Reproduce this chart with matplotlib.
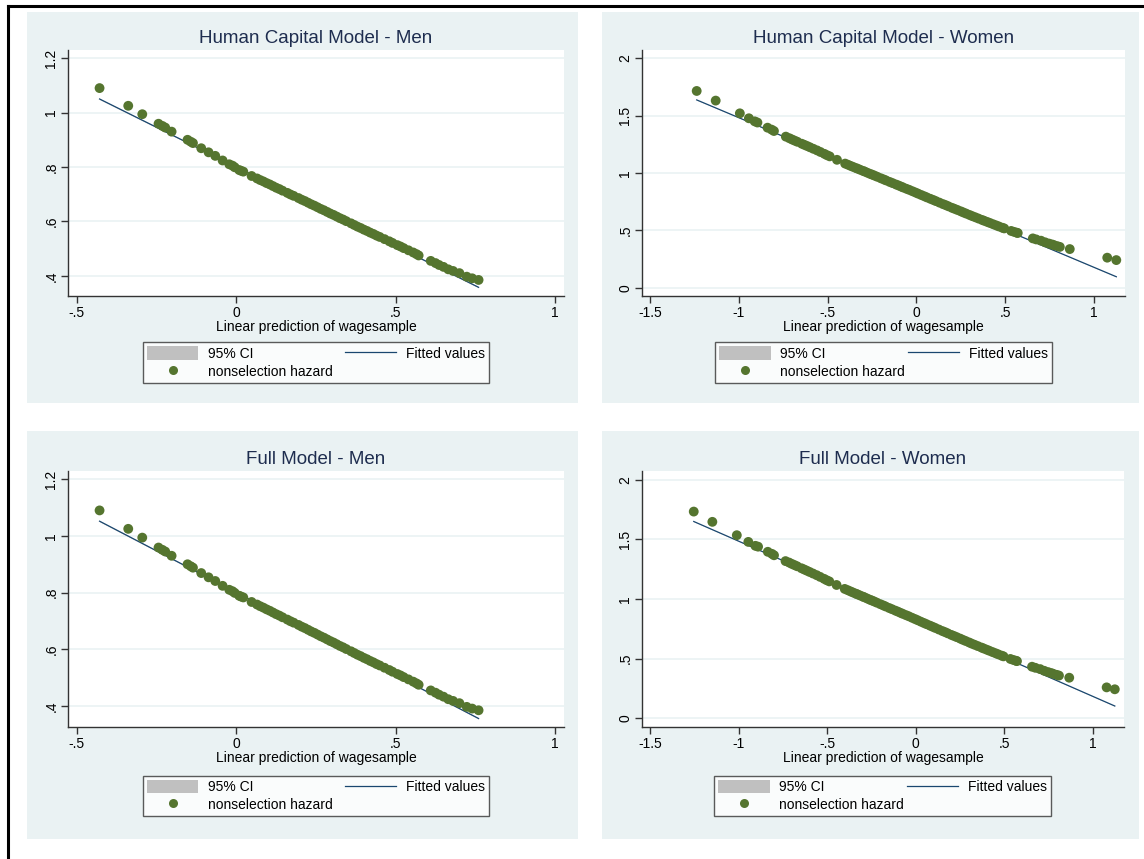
import matplotlib.pyplot as plt
from matplotlib.patches import Rectangle, Patch
from matplotlib.lines import Line2D
from matplotlib.ticker import FuncFormatter

plt.rcParams['font.family'] = ['Liberation Sans', 'DejaVu Sans']

# --- data ---
# Human Capital Model - Men (nonselection hazard vs linear prediction)
hc_men_x = [-0.429, -0.339, -0.295, -0.244, -0.232, -0.223, -0.203, -0.153, -0.143, -0.136,
            -0.110, -0.087, -0.066, -0.043, -0.022, -0.012, -0.005, 0.009, 0.015, 0.022,
            0.048, 0.065, 0.075, 0.085, 0.095, 0.105, 0.115, 0.125, 0.135, 0.145,
            0.160, 0.170, 0.180, 0.195, 0.205, 0.215, 0.225, 0.235, 0.245, 0.255,
            0.265, 0.275, 0.285, 0.295, 0.305, 0.315, 0.325, 0.335, 0.345, 0.360,
            0.370, 0.380, 0.390, 0.400, 0.410, 0.420, 0.430, 0.440, 0.450, 0.465,
            0.480, 0.490, 0.505, 0.515, 0.525, 0.540, 0.555, 0.565, 0.572, 0.610,
            0.625, 0.636, 0.650, 0.665, 0.680, 0.700, 0.723, 0.740, 0.760]
hc_men_y = [1.090, 1.025, 0.994, 0.959, 0.951, 0.945, 0.930, 0.900, 0.893, 0.888,
            0.869, 0.854, 0.841, 0.824, 0.810, 0.805, 0.799, 0.789, 0.786, 0.783,
            0.767, 0.758, 0.752, 0.747, 0.741, 0.736, 0.730, 0.724, 0.719, 0.713,
            0.705, 0.699, 0.694, 0.686, 0.680, 0.675, 0.669, 0.663, 0.658, 0.652,
            0.646, 0.641, 0.635, 0.629, 0.624, 0.618, 0.612, 0.607, 0.601, 0.593,
            0.587, 0.581, 0.576, 0.570, 0.565, 0.559, 0.554, 0.548, 0.543, 0.535,
            0.527, 0.521, 0.513, 0.508, 0.502, 0.494, 0.486, 0.480, 0.475, 0.455,
            0.447, 0.440, 0.433, 0.424, 0.418, 0.410, 0.397, 0.391, 0.385]
hc_men_fit_x = [-0.429, 0.760]
hc_men_fit_y = [1.050, 0.358]

# Human Capital Model - Women
hc_women_x = [-1.237, -1.130, -0.994, -0.943, -0.910, -0.895, -0.838, -0.815, -0.802, -0.735,
              -0.715, -0.700, -0.685, -0.670, -0.645, -0.630, -0.615, -0.599, -0.580, -0.559,
              -0.540, -0.518, -0.503, -0.488, -0.447, -0.401, -0.385, -0.370, -0.356, -0.340,
              -0.330, -0.316, -0.300, -0.290, -0.275, -0.260, -0.248, -0.235, -0.220, -0.200,
              -0.184, -0.170, -0.150, -0.134, -0.115, -0.100, -0.085, -0.073, -0.055, -0.040,
              -0.022, -0.005, 0.010, 0.028, 0.045, 0.060, 0.079, 0.095, 0.110, 0.130,
              0.150, 0.165, 0.180, 0.200, 0.215, 0.231, 0.250, 0.265, 0.281, 0.300,
              0.315, 0.332, 0.350, 0.370, 0.383, 0.400, 0.415, 0.433, 0.450, 0.465,
              0.484, 0.495, 0.534, 0.550, 0.565, 0.571, 0.656, 0.675, 0.702, 0.725,
              0.747, 0.765, 0.777, 0.795, 0.808, 0.864, 1.075, 1.126]
hc_women_y = [1.715, 1.631, 1.520, 1.477, 1.450, 1.440, 1.395, 1.378, 1.366, 1.317,
              1.303, 1.292, 1.282, 1.272, 1.255, 1.245, 1.235, 1.224, 1.211, 1.197,
              1.183, 1.167, 1.155, 1.145, 1.115, 1.082, 1.072, 1.062, 1.053, 1.043,
              1.037, 1.028, 1.018, 1.012, 1.002, 0.992, 0.985, 0.977, 0.967, 0.954,
              0.944, 0.935, 0.922, 0.912, 0.900, 0.891, 0.881, 0.873, 0.862, 0.853,
              0.841, 0.830, 0.820, 0.808, 0.797, 0.787, 0.775, 0.765, 0.755, 0.742,
              0.729, 0.720, 0.710, 0.697, 0.688, 0.678, 0.666, 0.656, 0.646, 0.634,
              0.624, 0.614, 0.603, 0.591, 0.583, 0.573, 0.564, 0.553, 0.543, 0.534,
              0.523, 0.517, 0.495, 0.487, 0.480, 0.477, 0.430, 0.421, 0.410, 0.396,
              0.385, 0.377, 0.370, 0.362, 0.356, 0.337, 0.262, 0.241]
hc_women_fit_x = [-1.237, 1.126]
hc_women_fit_y = [1.637, 0.096]

# Full Model - Men (looks identical to the human capital model)
full_men_x = hc_men_x
full_men_y = hc_men_y
full_men_fit_x = [-0.429, 0.760]
full_men_fit_y = [1.052, 0.356]

# Full Model - Women
full_women_x = [-1.253, -1.148, -1.010, -0.945, -0.905, -0.890, -0.835, -0.812, -0.800, -0.735,
                -0.715, -0.700, -0.685, -0.670, -0.645, -0.630, -0.615, -0.599, -0.580, -0.559,
                -0.540, -0.518, -0.503, -0.488, -0.447, -0.401, -0.385, -0.370, -0.356, -0.340,
                -0.330, -0.316, -0.300, -0.290, -0.275, -0.260, -0.248, -0.235, -0.220, -0.200,
                -0.184, -0.170, -0.150, -0.134, -0.115, -0.100, -0.085, -0.073, -0.055, -0.040,
                -0.022, -0.005, 0.010, 0.028, 0.045, 0.060, 0.079, 0.095, 0.110, 0.130,
                0.150, 0.165, 0.180, 0.200, 0.215, 0.231, 0.250, 0.265, 0.281, 0.300,
                0.315, 0.332, 0.350, 0.370, 0.383, 0.400, 0.415, 0.433, 0.450, 0.465,
                0.484, 0.495, 0.534, 0.550, 0.565, 0.571, 0.656, 0.675, 0.702, 0.725,
                0.747, 0.765, 0.777, 0.795, 0.808, 0.866, 1.077, 1.123]
full_women_y = [1.732, 1.646, 1.534, 1.478, 1.445, 1.438, 1.395, 1.378, 1.366, 1.317,
                1.305, 1.294, 1.284, 1.274, 1.257, 1.247, 1.237, 1.226, 1.213, 1.199,
                1.185, 1.169, 1.157, 1.147, 1.117, 1.084, 1.074, 1.064, 1.055, 1.045,
                1.039, 1.030, 1.020, 1.014, 1.004, 0.994, 0.987, 0.979, 0.969, 0.956,
                0.946, 0.937, 0.924, 0.914, 0.902, 0.893, 0.883, 0.875, 0.864, 0.855,
                0.843, 0.832, 0.822, 0.810, 0.799, 0.789, 0.777, 0.767, 0.757, 0.744,
                0.731, 0.722, 0.712, 0.699, 0.690, 0.680, 0.668, 0.658, 0.648, 0.636,
                0.626, 0.616, 0.605, 0.593, 0.585, 0.575, 0.566, 0.555, 0.545, 0.536,
                0.525, 0.519, 0.497, 0.489, 0.482, 0.479, 0.432, 0.423, 0.412, 0.398,
                0.387, 0.379, 0.372, 0.364, 0.358, 0.340, 0.259, 0.243]
full_women_fit_x = [-1.253, 1.123]
full_women_fit_y = [1.649, 0.103]

titles = ['Human Capital Model - Men', 'Human Capital Model - Women',
          'Full Model - Men', 'Full Model - Women']
men_xticks = [-0.5, 0, 0.5, 1]
men_yticks = [0.4, 0.6, 0.8, 1.0, 1.2]
women_xticks = [-1.5, -1, -0.5, 0, 0.5, 1]
women_yticks = [0, 0.5, 1, 1.5, 2]

# colours (Stata s2color look)
BG = '#EAF2F3'
NAVY = '#1A476F'
GREEN = '#55752F'
TITLE = '#1E2D4F'
CI_GREY = '#C0C0C0'

W, H = 1144, 859
fig = plt.figure(figsize=(W / 100, H / 100), dpi=100)


def frac(x0, y0, x1, y1):
    # pixel box (top-left origin) -> figure fraction [left, bottom, width, height]
    return [x0 / W, 1 - y1 / H, (x1 - x0) / W, (y1 - y0) / H]


def stata_fmt(v, pos):
    s = '%g' % round(v, 3)
    if s.startswith('0.'):
        s = s[1:]
    elif s.startswith('-0.'):
        s = '-' + s[2:]
    return s


# outer frame: only left and top edges are visible
fig.add_artist(Line2D([7.5 / W, 7.5 / W], [0, 1 - 6 / H], color='black', lw=2.2))
fig.add_artist(Line2D([7.5 / W, 1], [1 - 6 / H, 1 - 6 / H], color='black', lw=2.2))

panels = [
    dict(bg=(27, 12, 578, 403), ax=(68, 50, 564, 296), leg=(136, 341, 496, 384),
         x=hc_men_x, y=hc_men_y, fx=hc_men_fit_x, fy=hc_men_fit_y,
         xt=men_xticks, yt=men_yticks, xl=(-0.528, 1.028), yl=(0.326, 1.23)),
    dict(bg=(602, 12, 1139, 403), ax=(642, 50, 1125, 296), leg=(708, 341, 1059, 384),
         x=hc_women_x, y=hc_women_y, fx=hc_women_fit_x, fy=hc_women_fit_y,
         xt=women_xticks, yt=women_yticks, xl=(-1.545, 1.175), yl=(-0.072, 2.072)),
    dict(bg=(27, 431, 578, 839), ax=(68, 471, 564, 727), leg=(136, 773, 496, 819),
         x=full_men_x, y=full_men_y, fx=full_men_fit_x, fy=full_men_fit_y,
         xt=men_xticks, yt=men_yticks, xl=(-0.528, 1.028), yl=(0.326, 1.229)),
    dict(bg=(602, 431, 1139, 839), ax=(642, 471, 1124, 727), leg=(707, 773, 1058, 819),
         x=full_women_x, y=full_women_y, fx=full_women_fit_x, fy=full_women_fit_y,
         xt=women_xticks, yt=women_yticks, xl=(-1.545, 1.175), yl=(-0.073, 2.072)),
]

for p, title in zip(panels, titles):
    b = frac(*p['bg'])
    fig.add_artist(Rectangle((b[0], b[1]), b[2], b[3], transform=fig.transFigure,
                             facecolor=BG, edgecolor='none', zorder=0))

    ax = fig.add_axes(frac(*p['ax']))
    ax.set_facecolor('white')
    ax.set_axisbelow(True)

    # 95% CI is so narrow it hides under the fitted line
    ax.fill_between(p['fx'], [v - 0.002 for v in p['fy']], [v + 0.002 for v in p['fy']],
                    color=CI_GREY, lw=0, zorder=1)
    ax.plot(p['fx'], p['fy'], color=NAVY, lw=0.9, zorder=2)
    ax.scatter(p['x'], p['y'], s=50, color=GREEN, edgecolors='none', zorder=3)

    ax.set_xlim(*p['xl'])
    ax.set_ylim(*p['yl'])
    ax.set_xticks(p['xt'])
    ax.set_yticks(p['yt'])
    ax.xaxis.set_major_formatter(FuncFormatter(stata_fmt))
    ax.yaxis.set_major_formatter(FuncFormatter(stata_fmt))
    ax.grid(axis='y', color=BG, lw=1.2)
    for side in ['top', 'right']:
        ax.spines[side].set_visible(False)
    for side in ['left', 'bottom']:
        ax.spines[side].set_color('#333333')
        ax.spines[side].set_linewidth(1.0)
    ax.tick_params(direction='out', length=5, width=1, color='#333333',
                   labelsize=10, pad=2)
    ax.tick_params(axis='y', labelrotation=90)
    for lab in ax.get_yticklabels():
        lab.set_va('center')
    ax.set_xlabel('Linear prediction of wagesample', fontsize=10, labelpad=0)
    ax.set_title(title, fontsize=13.5, color=TITLE, pad=5)

    handles = [Patch(facecolor=CI_GREY, edgecolor='none'),
               Line2D([], [], ls='none', marker='o', ms=6.5, color=GREEN, mec='none'),
               Line2D([], [], color=NAVY, lw=0.9)]
    labels = ['95% CI', 'nonselection hazard', 'Fitted values']
    lb = frac(*p['leg'])
    leg = fig.legend(handles, labels, loc='center', bbox_to_anchor=lb, mode='expand',
                     ncol=2, fontsize=10, frameon=True, fancybox=False,
                     edgecolor='#333333', handlelength=3.7, handleheight=1.1,
                     handletextpad=0.7, labelspacing=0.25, borderpad=0.3)
    leg.get_frame().set_linewidth(1.0)

fig.savefig('out.png', dpi=100)
